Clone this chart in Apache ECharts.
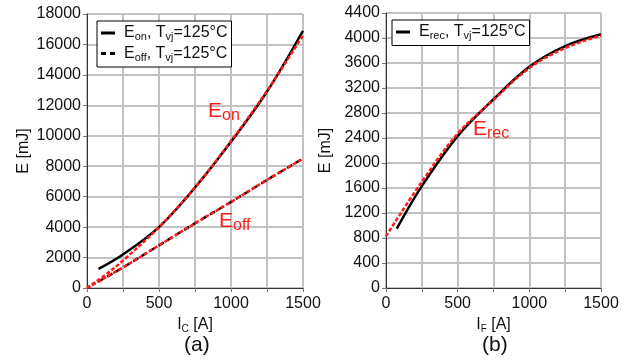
<!DOCTYPE html>
<html>
<head>
<meta charset="utf-8">
<script src="https://cdn.jsdelivr.net/npm/echarts@6/dist/echarts.min.js"></script>
<style>
  html, body { margin: 0; padding: 0; background: #fff; }
  #chart { width: 636px; height: 364px; }
</style>
</head>
<body>
<div id="chart"></div>
<script>
// values
var eonMeasI = [80, 250, 500, 750, 1000, 1250, 1500];
var eonMeas  = [1250, 2200, 4000, 6600, 9600, 12900, 16900];
var eonFitI  = [0, 125, 250, 500, 750, 1000, 1250, 1500];
var eonFit   = [0, 850, 1800, 4000, 6600, 9650, 12950, 16600];
var eoffMeasI = [80, 250, 500, 750, 1000, 1250, 1500];
var eoffMeas  = [430, 1350, 2800, 4250, 5650, 7100, 8500];
var eoffFitI  = [0, 250, 500, 750, 1000, 1250, 1500];
var eoffFit   = [0, 1350, 2800, 4250, 5650, 7100, 8500];
var erecMeasI = [75, 250, 500, 750, 1000, 1250, 1500];
var erecMeas  = [950, 1630, 2430, 3020, 3540, 3870, 4060];
var erecFitI  = [0, 250, 500, 750, 1000, 1250, 1500];
var erecFit   = [830, 1700, 2470, 3010, 3520, 3840, 4040];

var FONT = 'Liberation Sans, Arial, sans-serif';
var RED = '#ff1a1a';
var SOLID_ICON = 'path://M0 0H14V3H0Z';
var DASH_ICON = 'path://M0 0H5V3H0Z M9 0H14V3H9Z';

function pairs(xs, ys) {
    var out = [];
    for (var i = 0; i < xs.length; i++) out.push([xs[i], ys[i]]);
    return out;
}

var legendRich = {
    g: { width: 4 },
    n: { fontSize: 16, fontFamily: FONT, color: '#111', lineHeight: 19 },
    s: { fontSize: 11, fontFamily: FONT, color: '#111', lineHeight: 6, verticalAlign: 'bottom' }
};
var legendText = {
    'Eon':  '{g|}{n|E}{s|on}{n|, T}{s|vj}{n|=125°C}',
    'Eoff': '{g|}{n|E}{s|off}{n|, T}{s|vj}{n|=125°C}',
    'Erec': '{g|}{n|E}{s|rec}{n|, T}{s|vj}{n|=125°C}'
};

function xAxisFor(idx, sub) {
    return {
        type: 'value', gridIndex: idx, min: 0, max: 1500, interval: 250,
        name: '{n|I}{s|' + sub + '}{n| [A]}',
        nameLocation: 'middle', nameGap: 16,
        nameTextStyle: { rich: {
            n: { fontSize: 16, fontFamily: FONT, color: '#111', lineHeight: 18 },
            s: { fontSize: 10, fontFamily: FONT, color: '#111', lineHeight: 6, verticalAlign: 'bottom' }
        } },
        axisLine: { show: true, onZero: false, lineStyle: { color: '#333', width: 1 } },
        axisTick: { show: true, inside: false, length: 4, lineStyle: { color: '#777' } },
        axisLabel: {
            margin: 8, fontSize: 16, fontFamily: FONT, color: '#111',
            formatter: function (v) { return v % 500 === 0 ? String(v) : ''; }
        },
        splitLine: { show: true, lineStyle: { color: '#c2c2c2', width: 2 } }
    };
}

function yAxisFor(idx, max, step, gap) {
    return {
        type: 'value', gridIndex: idx, min: 0, max: max, interval: step,
        name: 'E [mJ]', nameLocation: 'middle', nameGap: gap, nameRotate: 90,
        nameTextStyle: { fontSize: 16, fontFamily: FONT, color: '#111' },
        axisLine: { show: true, onZero: false, lineStyle: { color: '#333', width: 1 } },
        axisTick: { show: true, inside: false, length: 4, lineStyle: { color: '#777' } },
        axisLabel: {
            margin: 6, fontSize: 16, fontFamily: FONT, color: '#111',
            formatter: function (v) { return String(v); }
        },
        splitLine: { show: true, lineStyle: { color: '#c2c2c2', width: 2 } }
    };
}

function measured(name, xi, xs, ys, dash) {
    return {
        name: name, type: 'line', xAxisIndex: xi, yAxisIndex: xi,
        data: pairs(xs, ys), smooth: 0.35,
        symbol: 'none', showSymbol: false,
        lineStyle: { color: '#000', width: 2.5, type: dash ? [6, 4] : 'solid' },
        itemStyle: { color: '#000' }, z: 3
    };
}

function fitted(name, xi, xs, ys) {
    return {
        name: name, type: 'line', xAxisIndex: xi, yAxisIndex: xi,
        data: pairs(xs, ys), smooth: 0.35,
        symbol: 'none', showSymbol: false,
        lineStyle: { color: RED, width: 2.5, type: [4, 2] },
        itemStyle: { color: RED }, z: 4
    };
}

function redLabel(x, y, sub) {
    return {
        type: 'text', left: x, top: y, z: 10,
        style: {
            text: '{e|E}{s|' + sub + '}',
            rich: {
                e: { fontSize: 21, fontFamily: FONT, fill: RED, lineHeight: 24 },
                s: { fontSize: 16, fontFamily: FONT, fill: RED, lineHeight: 8, verticalAlign: 'bottom' }
            }
        }
    };
}

function legendFor(names, icons, left, top) {
    var items = [];
    for (var i = 0; i < names.length; i++) items.push({ name: names[i], icon: icons[i] });
    return {
        data: items, orient: 'vertical', left: left, top: top,
        backgroundColor: '#fff', borderColor: '#000', borderWidth: 1,
        padding: [4, 4, 4, 4], itemGap: 3, itemWidth: 14, itemHeight: 3,
        formatter: function (n) { return legendText[n]; },
        textStyle: { rich: legendRich }
    };
}

var chart = echarts.init(document.getElementById('chart'));
chart.setOption({
    animation: false,
    backgroundColor: '#fff',
    grid: [
        { left: 87, right: 333, top: 14, bottom: 76, show: true, borderColor: '#333', borderWidth: 1, backgroundColor: 'transparent' },
        { left: 386, right: 35, top: 13, bottom: 76, show: true, borderColor: '#333', borderWidth: 1, backgroundColor: 'transparent' }
    ],
    xAxis: [xAxisFor(0, 'C'), xAxisFor(1, 'F')],
    yAxis: [yAxisFor(0, 18000, 2000, 55), yAxisFor(1, 4400, 400, 52)],
    legend: [
        legendFor(['Eon', 'Eoff'], [SOLID_ICON, DASH_ICON], 97, 21),
        legendFor(['Erec'], [SOLID_ICON], 392, 20)
    ],
    series: [
        measured('Eon', 0, eonMeasI, eonMeas, false),
        measured('Eoff', 0, eoffMeasI, eoffMeas, true),
        fitted('Eon fit', 0, eonFitI, eonFit),
        fitted('Eoff fit', 0, eoffFitI, eoffFit),
        measured('Erec', 1, erecMeasI, erecMeas, false),
        fitted('Erec fit', 1, erecFitI, erecFit)
    ],
    graphic: [
        redLabel(208, 101, 'on'),
        redLabel(219, 211, 'off'),
        redLabel(473, 119, 'rec'),
        { type: 'text', left: 184, top: 335, style: { text: '(a)', fontSize: 21, fontFamily: FONT, fill: '#111' } },
        { type: 'text', left: 482, top: 335, style: { text: '(b)', fontSize: 21, fontFamily: FONT, fill: '#111' } }
    ]
});
</script>
</body>
</html>
